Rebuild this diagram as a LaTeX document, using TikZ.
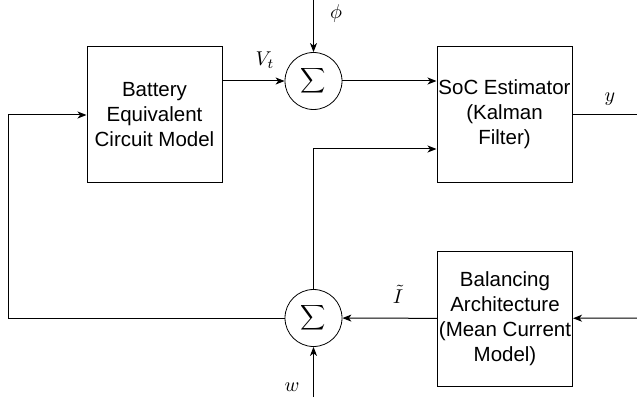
\documentclass[tikz,border=0pt]{standalone}
\usepackage{graphicx}
\usepackage{fontspec}
\setmainfont{Liberation Sans}
\usetikzlibrary{arrows.meta}
\tikzset{
  block/.style={draw, line width=1pt, minimum width=135pt, minimum height=135pt, align=center, inner sep=0pt, font=\fontsize{20.5}{25}\selectfont},
  sumnode/.style={draw, circle, line width=0.8pt, minimum size=57pt, inner sep=0pt},
  sig/.style={line width=1pt, -{Stealth[length=9pt,width=7pt,inset=2.5pt]}},
  lbl/.style={inner sep=1pt}
}
\newcommand{\sumsign}{\scalebox{1.75}{$\displaystyle\sum$}}
\newcommand{\biglbl}[1]{\scalebox{2}{$#1$}}
\begin{document}
\begin{tikzpicture}[x=1pt,y=1pt]
\useasboundingbox (0,0) rectangle (637,405);
\node[block] (bat) at (154.5,290.5) {Battery\\Equivalent\\Circuit Model};
\node[block] (soc) at (504.5,290.5) {SoC Estimator\\(Kalman\\Filter)};
\node[block] (bal) at (505,86.5) {Balancing\\Architecture\\(Mean Current\\Model)};
\node[sumnode] (s1) at (313.5,324) {\sumsign};
\node[sumnode] (s2) at (313.5,87) {\sumsign};
\coordinate (phiin) at (313.5,405);
\coordinate (win) at (313.5,8);
\coordinate (yout) at (637,290.5);
\coordinate (iin) at (637,87);
\coordinate (loop) at (8,87);
\draw[sig] (phiin) -- (s1);
\draw[sig] (bat.east |- s1) -- (s1);
\draw[sig] (s1) -- (s1 -| soc.west);
\draw[line width=1pt] (soc) -- (yout);
\draw[sig] (iin) -- (bal);
\draw[sig] (bal) -- (s2);
\draw[sig] (win) -- (s2);
\draw[sig] (s2) |- ([yshift=-34.5pt]soc.west);
\draw[sig] (s2) -- (loop) |- ([yshift=-0.5pt]bat.west);
\node[lbl] (vt) at (265,345) {\biglbl{V_t}};
\node[lbl] (phi) at (336,391) {\biglbl{\phi}};
\node[lbl] (y) at (610,306) {\biglbl{y}};
\node[lbl] (it) at (398,111) {\biglbl{\tilde{I}}};
\node[lbl] (w) at (292,18) {\biglbl{w}};
\end{tikzpicture}
\end{document}
